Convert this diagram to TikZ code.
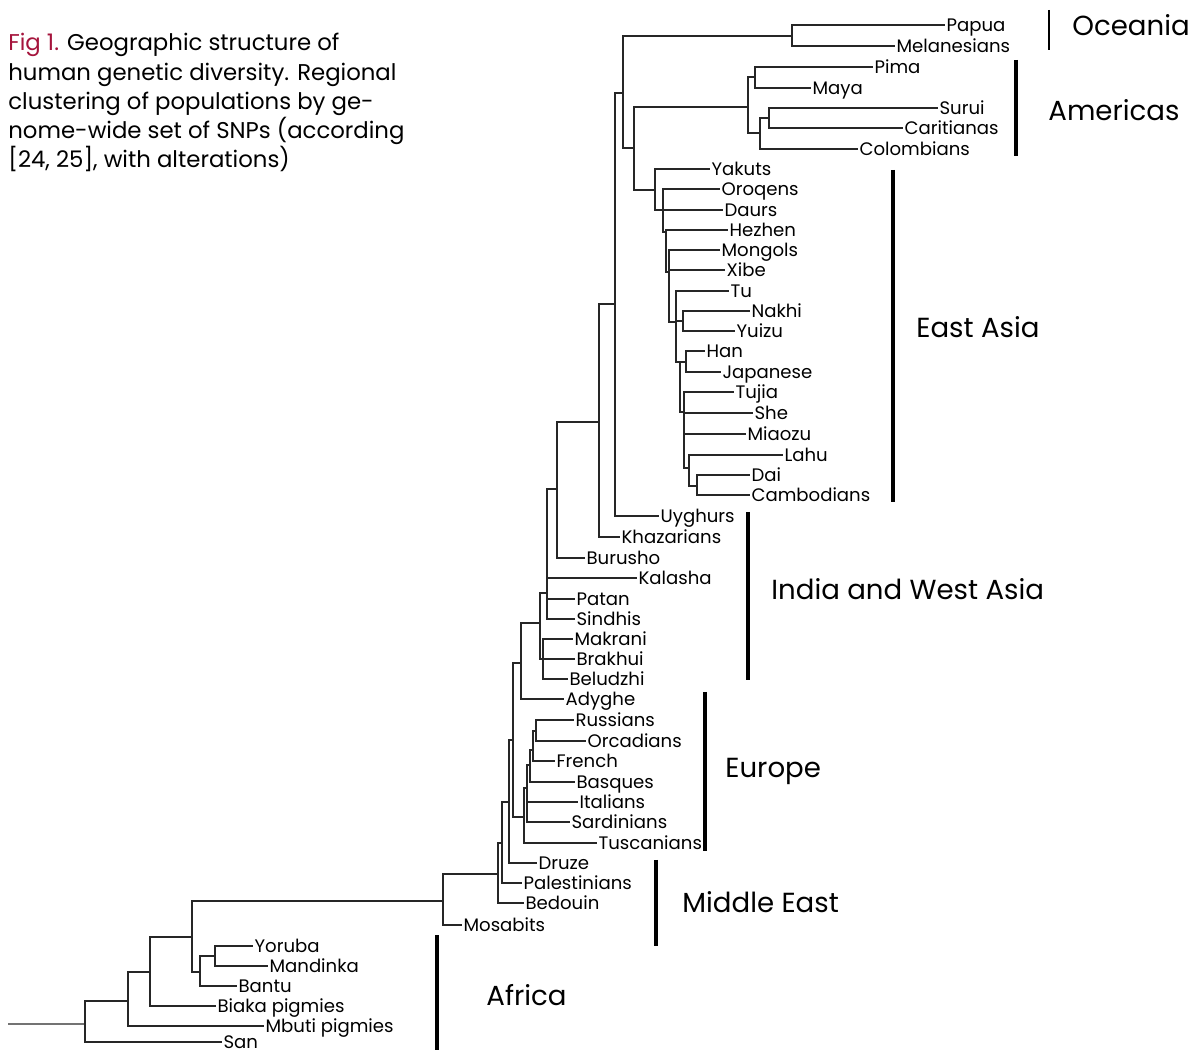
\documentclass[tikz,border=0pt]{standalone}
\usepackage{fontspec}
\setmainfont{Poppins}
\definecolor{figred}{RGB}{165,20,60}
\tikzset{
  x=0.5pt, y=-0.5pt,
  {branch/.style} ={draw=black!85, line width=0.75pt},
  {stub/.style} ={draw=black!55, line width=0.75pt},
  {leaf/.style} ={anchor=west, inner sep=0pt, inner xsep=0.6pt,
                  text height=6.3pt, text depth=0pt,
                  font=\fontsize{9.05}{11}\selectfont},
  {region/.style} ={anchor=west, inner sep=0pt,
                  font=\fontsize{13.8}{16}\selectfont},
  {regbar/.style} ={draw=black, line width=2pt},
}
\begin{document}
\begin{tikzpicture}
\useasboundingbox (0,0) rectangle (1189,1052);
% caption
\node[anchor=north west, inner sep=0pt, align=left,
      font=\fontsize{11.4}{14.6}\selectfont] (caption) at (8,33)
  {\textcolor{figred}{Fig 1.} Geographic structure of\\
   human genetic diversity. Regional\\
   clustering of populations by ge-\\
   nome-wide set of SNPs (according\\{}%
   [24, 25], with alterations)};
% leaves
\foreach \n/\x/\y/\t in {
  papua/945/25/Papua, melan/895/46/Melanesians, pima/873/67/Pima,
  maya/811/88/Maya, surui/938/108/Surui, carit/903/128/Caritianas,
  colomb/858/149/Colombians, yakuts/710/169/Yakuts, oroq/720/189/Oroqens,
  daurs/723/210/Daurs, hezhen/728/230/Hezhen, mongols/720/250/Mongols,
  xibe/725/270/Xibe, tu/729/291/Tu, nakhi/750/311/Nakhi,
  yuizu/735/331/Yuizu, han/705/351/Han, japan/721/372/Japanese,
  tujia/734/392/Tujia, she/753/413/She, miaozu/746/434/Miaozu,
  lahu/783/455/Lahu, dai/750/475/Dai, camb/750/495/Cambodians,
  uygh/659/516/Uyghurs, khaz/620/537/Khazarians, burusho/585/558/Burusho,
  kalasha/637/578/Kalasha, patan/575/599/Patan, sindhis/575/619/Sindhis,
  makrani/573/639/Makrani, brakhui/575/659/Brakhui, beludzhi/568/679/Beludzhi,
  adyghe/564/699/Adyghe, russ/574/720/Russians, orcad/586/741/Orcadians,
  french/555/761/French, basques/575/782/Basques, ital/578/802/Italians,
  sard/570/822/Sardinians, tusc/597/843/Tuscanians, druze/537/863/Druze,
  palest/522/883/Palestinians, bedouin/524/903/Bedouin, mosab/462/925/Mosabits,
  yoruba/253/946/Yoruba, mandinka/268/966/Mandinka, bantu/237/986/Bantu,
  biaka/216/1006/Biaka pigmies, mbuti/264/1026/Mbuti pigmies, san/222/1042/San}
  \node[leaf] (\n) at (\x,\y) {\t};
% inner nodes
\foreach \n/\x/\y in {
  root/85/1024, afa/128/1001, afb/150/972, afc/192/937, afd/200/972,
  afe/215/956, ooa/443/901, mea/498/874, meb/502/843, mec/509/802,
  eur0/513/740, eu1/524/817, eu2/527/788, eu3/530/765, eu4/533/750,
  eu5/536/731, wa/521/663, wb/540/623, wc/543/659, wd/547/593,
  we/557/489, wf/599/422, wg/615/304, wh/623/93, oce/792/36,
  asam/634/148, amer/748/107, ampm/755/77, amsc/760/133, amsu/769/118,
  ea1/655/190, ea2/663/210, ea3/666/232, ea4/669/272, ea5/676/322,
  ea6/683/321, ea7/680/362, ea8/686/362, ea9/684/412, ea10/689/468,
  ea11/697/486}
  \coordinate (\n) at (\x,\y);
\coordinate (base) at (8,1024);
\draw[stub] (base) -- (root);
% branches
\foreach \p/\c in {
  root/afa, root/san, afa/afb, afa/mbuti, afb/afc, afb/biaka,
  afc/ooa, afc/afd, afd/afe, afd/bantu, afe/yoruba, afe/mandinka,
  ooa/mea, ooa/mosab, mea/meb, mea/bedouin, meb/mec, meb/palest,
  mec/eur0, mec/druze, eur0/wa, eur0/eu1,
  eu1/eu2, eu1/tusc, eu2/eu3, eu2/ital, eu2/sard, eu3/eu4, eu3/basques,
  eu4/eu5, eu4/french, eu5/russ, eu5/orcad,
  wa/wb, wa/adyghe, wb/wd, wb/wc,
  wc/makrani, wc/brakhui, wc/beludzhi,
  wd/we, wd/kalasha, wd/patan, wd/sindhis,
  we/wf, we/burusho, wf/wg, wf/khaz, wg/wh, wg/uygh,
  wh/oce, wh/asam, oce/papua, oce/melan,
  asam/amer, asam/ea1, amer/ampm, amer/amsc, ampm/pima, ampm/maya,
  amsc/amsu, amsc/colomb, amsu/surui, amsu/carit,
  ea1/yakuts, ea1/ea2, ea2/oroq, ea2/daurs, ea2/ea3,
  ea3/hezhen, ea3/ea4, ea4/mongols, ea4/xibe, ea4/ea5,
  ea5/tu, ea5/ea6, ea5/ea7, ea6/nakhi, ea6/yuizu,
  ea7/ea8, ea7/ea9, ea8/han, ea8/japan,
  ea9/tujia, ea9/she, ea9/miaozu, ea9/ea10,
  ea10/lahu, ea10/ea11, ea11/dai, ea11/camb}
  \draw[branch] (\p) |- (\c);
% regions
\draw[regbar, line width=1pt] (1049,10) -- (1049,50);
\node[region] (oceania) at (1072,25) {Oceania};
\draw[regbar] (1016,60) -- (1016,156);
\node[region] (americas) at (1048,110) {Americas};
\draw[regbar] (893,170) -- (893,502);
\node[region] (eastasia) at (916,327) {East Asia};
\draw[regbar] (748,512) -- (748,680);
\node[region] (westasia) at (771,589) {India and West Asia};
\draw[regbar] (705,692) -- (705,851);
\node[region] (europe) at (725,771) {Europe};
\draw[regbar] (656,860) -- (656,946);
\node[region] (mideast) at (682,902) {Middle East};
\draw[regbar] (437,935) -- (437,1050);
\node[region] (africa) at (486,995) {Africa};
\end{tikzpicture}
\end{document}
